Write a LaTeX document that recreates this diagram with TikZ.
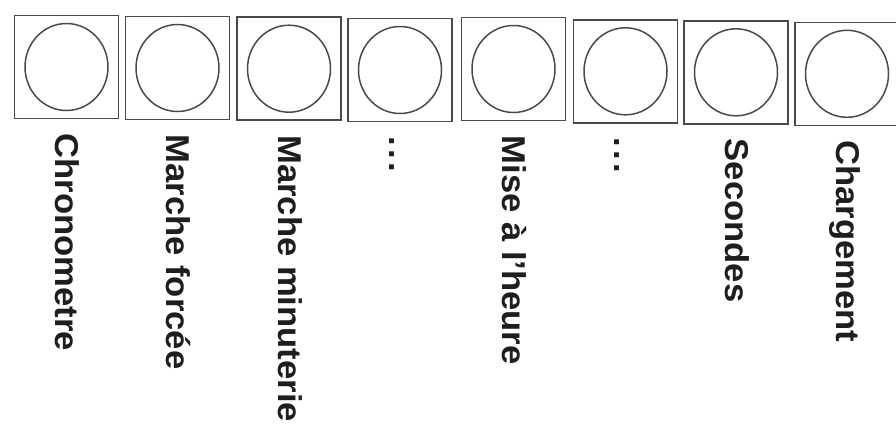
\documentclass[tikz,border=0pt]{standalone}
\usepackage{fontspec}
\setmainfont{Liberation Sans}
\usetikzlibrary{shapes.geometric}
\definecolor{linegray}{HTML}{4A4A4A}
\definecolor{inkgray}{HTML}{1E1E1E}
\newcommand{\mydots}{.\hspace{3pt}.\hspace{3pt}.}
\begin{document}
\begin{tikzpicture}[x=1pt,y=-1pt,
  keybox/.style={draw=linegray, line width=1.6pt, minimum width=104pt, minimum height=103pt, inner sep=0pt},
  knob/.style={draw=linegray, line width=1.5pt, ellipse, minimum width=83pt, minimum height=87pt, inner sep=0pt},
  keylabel/.style={rotate=-90, anchor=base west, inner sep=0pt, text=inkgray,
    font=\fontsize{33}{40}\selectfont\bfseries}]
\useasboundingbox (0,0) rectangle (896,432);
\clip (0,0) rectangle (896,432);
\fill[white] (0,0) rectangle (896,432);
\foreach \i/\cx/\cy/\txt in {
  1/66.5/67/Chronometre,
  2/177.5/68/Marche forcée,
  3/289/68.7/Marche minuterie,
  4/400/70/\mydots,
  5/513.5/69/Mise à l'heure,
  6/625.5/71.3/\mydots,
  7/736/72.3/Secondes,
  8/847/73.8/Chargement}{
  \node[keybox] (b\i) at (\cx,\cy) {};
  \node[knob] (c\i) at (b\i.center) {};
  \node[keylabel] (t\i) at ([xshift=-11pt,yshift=-14pt]b\i.south) {\scalebox{1.05}[1]{\txt}};
}
\end{tikzpicture}
\end{document}
